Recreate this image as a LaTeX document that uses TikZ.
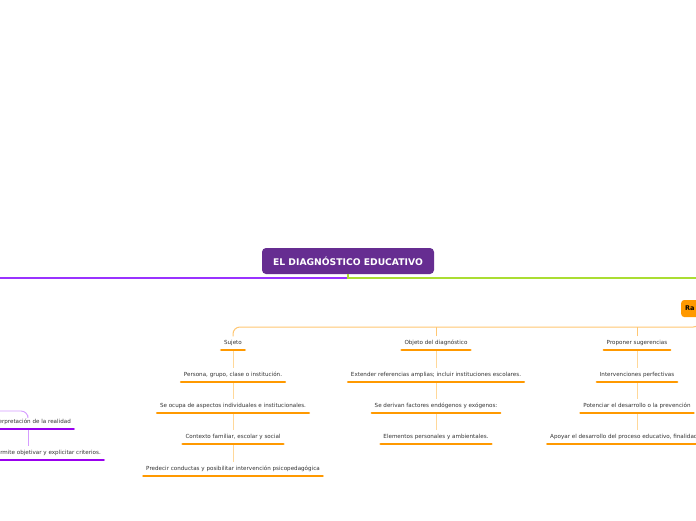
\documentclass[tikz,border=0pt]{standalone}
\usepackage{fontspec}
\setmainfont{DejaVu Sans}
\definecolor{mainpurple}{HTML}{662D91}
\definecolor{linepurple}{HTML}{9933FF}
\definecolor{linegreen}{HTML}{AADD33}
\definecolor{uorange}{HTML}{FF9900}
\definecolor{corange}{HTML}{FFD899}
\definecolor{borange}{HTML}{FFC773}
\definecolor{upurple}{HTML}{9900EE}
\definecolor{cpurple}{HTML}{D59CFF}
\definecolor{txt}{HTML}{333333}
\tikzset{
  leaf/.style={font=\fontsize{5.6}{6.5}\selectfont, text=txt, inner xsep=4pt, inner ysep=4pt,
    text height=3.9pt, text depth=1.3pt, anchor=south},
  uline/.style={line width=2.6pt, line cap=round, draw=uorange},
  puline/.style={line width=2.6pt, line cap=round, draw=upurple},
  conn/.style={draw=corange, line width=0.9pt},
  bus/.style={draw=borange, line width=1pt, rounded corners=7pt},
  pconn/.style={draw=cpurple, line width=0.9pt, rounded corners=7pt},
  mainline/.style={line width=1.8pt},
}
\begin{document}
\begin{tikzpicture}[x=1pt,y=-1pt]
\path[use as bounding box] (0,0) rectangle (696,520);
\clip (0,0) rectangle (696,520);
\fill[white] (0,0) rectangle (696,520);

% central node
\node[fill=mainpurple, rounded corners=4pt, minimum width=172pt, minimum height=26pt,
  text=white, font=\fontsize{9.2}{10}\selectfont\bfseries, inner sep=0pt] (main) at (348,261) {EL DIAGNÓSTICO EDUCATIVO};
\coordinate (lend) at (-10,278);
\coordinate (rend) at (710,278);
\coordinate (split) at (348,278);
\draw[mainline, draw=linepurple] (split) -- (lend);
\draw[mainline, draw=linegreen] (main.south) -- (split) -- (rend);

% orange branch node (clipped at the right edge)
\node[fill=uorange, rounded corners=3pt, anchor=west, minimum height=17pt, text width=30pt,
  align=left, inner xsep=4pt, font=\fontsize{6.5}{8}\selectfont\bfseries, text=black] (ra) at (681,308.5) {Ra};

% Sujeto column
\node[leaf] (s0) at (233,350) {Sujeto};
\node[leaf] (s1) at (233,382) {Persona, grupo, clase o institución.};
\node[leaf] (s2) at (233,413) {Se ocupa de aspectos individuales e institucionales.};
\node[leaf] (s3) at (233,444) {Contexto familiar, escolar y social};
\node[leaf] (s4) at (233,476) {Predecir conductas y posibilitar intervención psicopedagógica};

% Objeto column
\node[leaf] (o0) at (436,350) {Objeto del diagnóstico};
\node[leaf] (o1) at (436,382) {Extender referencias amplias; incluir instituciones escolares.};
\node[leaf] (o2) at (436,413) {Se derivan factores endógenos y exógenos:};
\node[leaf] (o3) at (436,444) {Elementos personales y ambientales.};

% Proponer column
\node[leaf] (r0) at (637,350) {Proponer sugerencias};
\node[leaf] (r1) at (637,382) {Intervenciones perfectivas};
\node[leaf] (r2) at (637,413) {Potenciar el desarrollo o la prevención};
\node[leaf] (r3) at (546,444) [anchor=south west] {Apoyar el desarrollo del proceso educativo, finalidad};

% bus
\coordinate (busy) at (0,327);
\draw[bus] (ra.south) -- (ra.south |- busy) -| (s0.north);
\draw[bus] (o0.north) -- (o0.north |- busy);
\draw[bus] (r0.north) -- (r0.north |- busy);

% column connectors
\foreach \a/\b in {s0/s1,s1/s2,s2/s3,s3/s4,o0/o1,o1/o2,o2/o3,r0/r1,r1/r2}
  \draw[conn] (\a.south) -- (\b.north);
\draw[conn] (r2.south) -- (r2.south |- r3.north);

% underlines
\foreach \n in {s0,s1,s2,s3,s4,o0,o1,o2,o3,r0,r1,r2}
  \draw[uline] ([xshift=1.3pt]\n.south west) -- ([xshift=-1.3pt]\n.south east);
\draw[uline] ([xshift=1.3pt]r3.south west) -- ++(200,0);

% left purple branch
\node[leaf, anchor=south east] (p1) at (75,429) {Interpretación de la realidad};
\node[leaf, anchor=south east] (p2) at (105,460) {Permite objetivar y explicitar criterios.};
\coordinate (pc) at (28,0);
\coordinate (pl) at (-10,411);
\draw[pconn] (pl) -| (pc |- p1.north);
\draw[pconn] (pc |- p1.south) -- (pc |- p2.north);
\draw[puline] ([xshift=1.3pt]p1.south west) -- ([xshift=-1.3pt]p1.south east);
\draw[puline] ([xshift=1.3pt]p2.south west) -- ([xshift=-1.3pt]p2.south east);
\end{tikzpicture}
\end{document}
